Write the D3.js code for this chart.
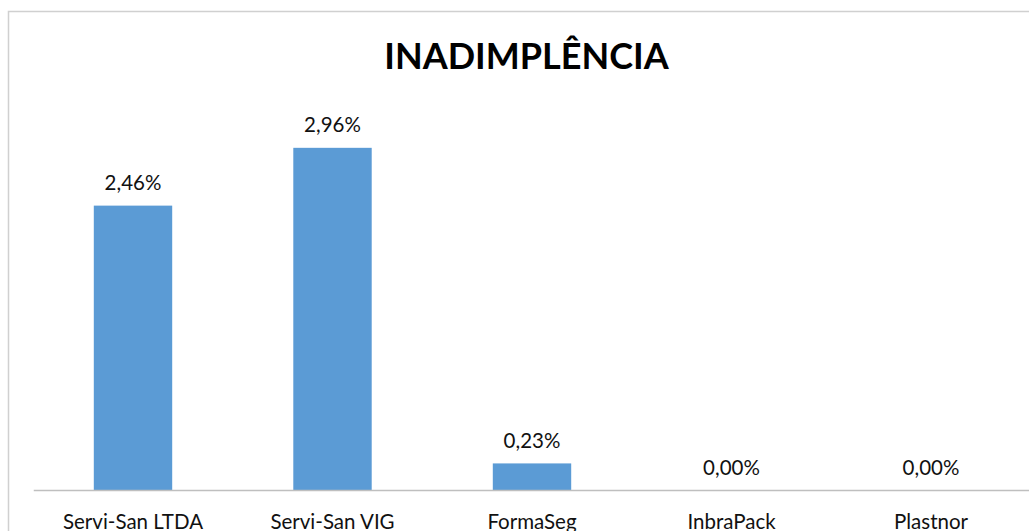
<!DOCTYPE html>
<html><head><meta charset="utf-8">
<script src="https://cdn.jsdelivr.net/npm/d3@7"></script>
<style>body{margin:0;background:#fff;overflow:hidden}svg{display:block}</style>
</head><body>
<svg id="c" width="1029" height="531"></svg>
<script>
const categories = ["Servi-San LTDA", "Servi-San VIG", "FormaSeg", "InbraPack", "Plastnor"];
const values = [2.46, 2.96, 0.23, 0.00, 0.00];
const title = "INADIMPLÊNCIA";

const svg = d3.select("#c");
const font = "Lato, 'Open Sans', sans-serif";

// chart border (left and top)
svg.append("path").attr("d", "M8.5,531 L8.5,11.5 L1029,11.5")
  .attr("fill", "none").attr("stroke", "#d0d0d0").attr("stroke-width", 1.5);

const x = d3.scaleBand().domain(categories).range([33.25, 1030.75])
  .paddingInner(0.607).paddingOuter(0.3035);
const y = d3.scaleLinear().domain([0, 3.5]).range([490, 85.4]);

svg.selectAll("rect.bar").data(values).join("rect").attr("class", "bar")
  .attr("x", (d, i) => x(categories[i]))
  .attr("width", x.bandwidth())
  .attr("y", d => y(d))
  .attr("height", d => y(0) - y(d))
  .attr("fill", "#5B9BD5");

const xAxis = d3.axisBottom(x).tickSize(0).tickPadding(0);
const gx = svg.append("g").attr("transform", `translate(0,${y(0)})`).call(xAxis);
gx.select(".domain").attr("stroke", "#bfbfbf").attr("stroke-width", 1.5);
gx.selectAll("text").attr("dy", null).attr("y", 38.5)
  .attr("font-family", font).attr("font-size", 20.5).attr("fill", "#111");

const fmt = d => d.toFixed(2).replace(".", ",") + "%";
svg.selectAll("text.vl").data(values).join("text").attr("class", "vl")
  .attr("x", (d, i) => x(categories[i]) + x.bandwidth() / 2)
  .attr("y", d => y(d) - 15.5)
  .attr("text-anchor", "middle")
  .attr("font-family", font).attr("font-size", 20.5).attr("fill", "#111")
  .text(fmt);

svg.append("text").attr("x", 526.5).attr("y", 68.5)
  .attr("text-anchor", "middle").attr("font-family", font)
  .attr("font-weight", "bold").attr("font-size", 36).attr("fill", "#000")
  .text(title);
</script>
</body></html>
